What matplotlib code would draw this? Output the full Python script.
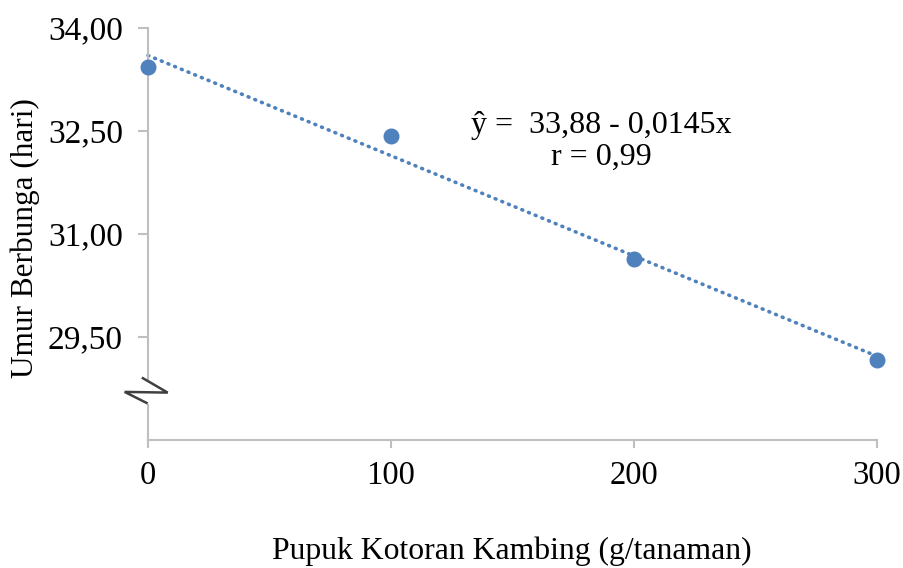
import matplotlib.pyplot as plt
import numpy as np

# dosis pupuk kotoran kambing (g/tanaman) dan umur berbunga (hari)
dosis = [0, 100, 200, 300]
umur_berbunga = [33.43, 32.42, 30.63, 29.16]
y_ticks = [29.5, 31.0, 32.5, 34.0]
y_ticklabels = ["29,50", "31,00", "32,50", "34,00"]
x_ticks = [0, 100, 200, 300]
persamaan = "ŷ =  33,88 - 0,0145x\nr = 0,99"

plt.rcParams['font.family'] = ['Liberation Serif', 'DejaVu Serif']
biru = '#4f81bd'
abu = '#bfbfbf'

fig = plt.figure(figsize=(9.04, 5.68), dpi=100)
ax = fig.add_axes([0.1637, 0.2254, 0.8064, 0.7253])

# garis tren linear
b, a = np.polyfit(dosis, umur_berbunga, 1)
xs = np.array([dosis[0], dosis[-1]])
ax.plot(xs, a + b * xs, linestyle=(0, (0.25, 1.75)), color=biru, lw=2.6,
        dash_capstyle='round', clip_on=False, zorder=2)
ax.plot(dosis, umur_berbunga, 'o', color=biru, ms=10.5, clip_on=False, zorder=3)

ax.set_xlim(0, 300)
ax.set_ylim(28, 34)
ax.set_xticks(x_ticks)
ax.set_xticklabels([str(v) for v in x_ticks])
ax.set_yticks(y_ticks)
ax.set_yticklabels(y_ticklabels)

for s in ['top', 'right']:
    ax.spines[s].set_visible(False)
for s in ['left', 'bottom']:
    ax.spines[s].set_color(abu)
    ax.spines[s].set_linewidth(1.5)
ax.tick_params(axis='y', length=7, width=1.5, color=abu, labelsize=24, pad=11)
ax.tick_params(axis='x', length=6, width=1.5, color=abu, labelsize=23.5, pad=9)

fig.text(25 / 904, 1 - 238 / 568, "Umur Berbunga (hari)", rotation=90,
         ha='center', va='center', fontsize=22.5)
fig.text(512 / 904, 1 - 551 / 568, "Pupuk Kotoran Kambing (g/tanaman)",
         ha='center', va='center', fontsize=22.8)

ax.text(0.622, 0.725, persamaan, transform=ax.transAxes, ha='center', va='center',
        fontsize=23, linespacing=1.1)

# tanda patahan sumbu y
trans = ax.get_yaxis_transform()
ax.add_patch(plt.Rectangle((-0.035, 28.53), 0.075, 0.33, transform=trans,
                           facecolor='white', edgecolor='none', clip_on=False, zorder=4))
ax.plot([-0.007, 0.027, -0.032, -0.002], [28.90, 28.69, 28.70, 28.54],
        transform=trans, color='#404040', lw=1.8, solid_joinstyle='miter',
        clip_on=False, zorder=5)

fig.savefig('out.png', dpi=100)
